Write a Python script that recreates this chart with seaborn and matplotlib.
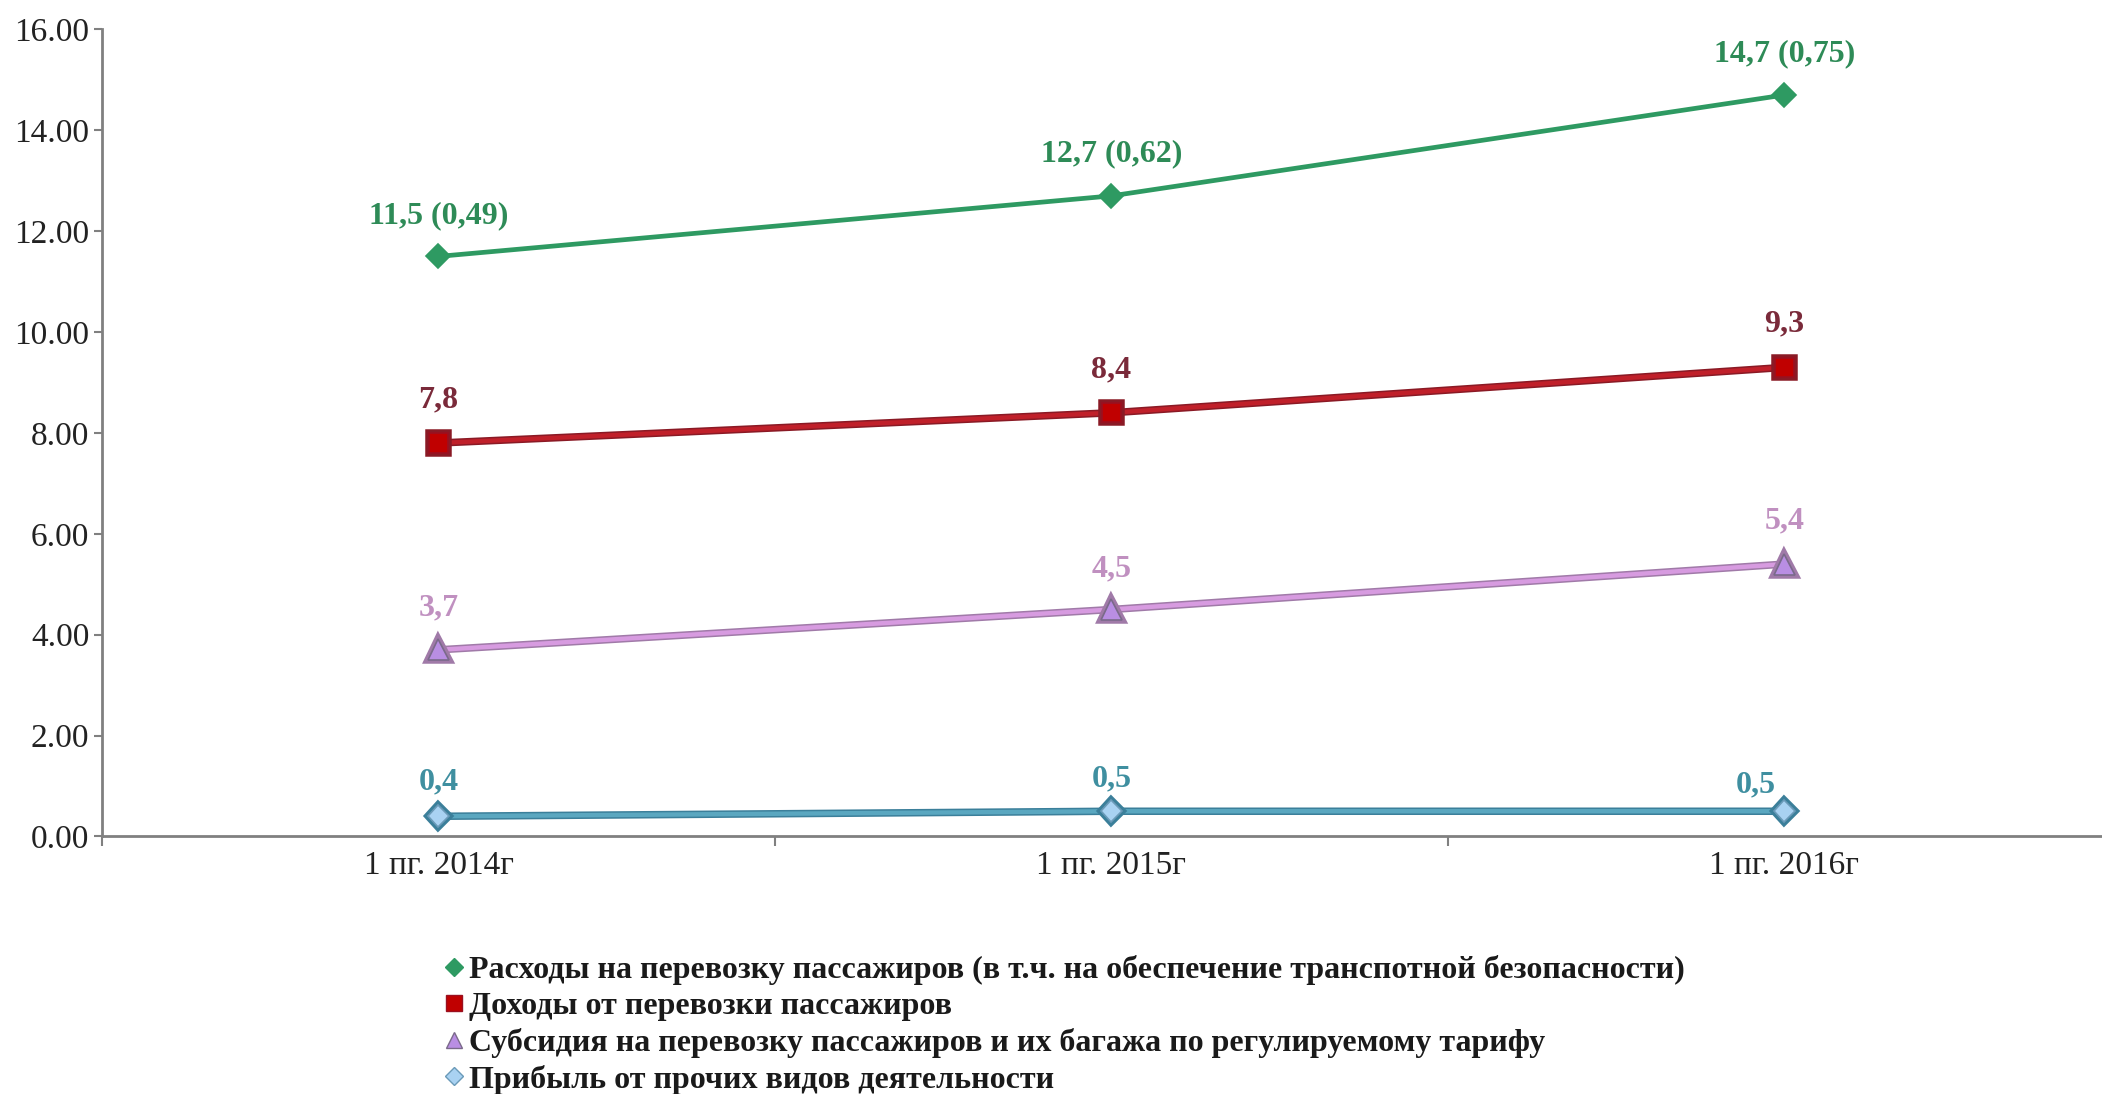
import matplotlib
matplotlib.use("Agg")
import matplotlib.pyplot as plt
import matplotlib.patheffects as pe
from matplotlib.lines import Line2D
import seaborn as sns
import pandas as pd

categories = ["1 пг. 2014г", "1 пг. 2015г", "1 пг. 2016г"]
series_names = [
    "Расходы на перевозку пассажиров (в т.ч. на обеспечение транспотной безопасности)",
    "Доходы от перевозки пассажиров",
    "Субсидия на перевозку пассажиров и их багажа по регулируемому тарифу",
    "Прибыль от прочих видов деятельности",
]
expenses = [11.5, 12.7, 14.7]
income = [7.8, 8.4, 9.3]
subsidy = [3.7, 4.5, 5.4]
profit = [0.4, 0.5, 0.5]
expenses_labels = ["11,5 (0,49)", "12,7 (0,62)", "14,7 (0,75)"]
income_labels = ["7,8", "8,4", "9,3"]
subsidy_labels = ["3,7", "4,5", "5,4"]
profit_labels = ["0,4", "0,5", "0,5"]
yticks = [0, 2, 4, 6, 8, 10, 12, 14, 16]

sns.set_theme(style="white")
plt.rcParams["font.family"] = ["Liberation Serif", "DejaVu Serif"]

fig = plt.figure(figsize=(21.02, 10.94), dpi=100)
ax = fig.add_axes([0.0485, 0.2354, 0.9605, 0.7377])

styles = [
    dict(values=expenses, labels=expenses_labels, color="#2e9a62", marker="D", mfc="#2e9a62",
         mec="#2e9a62", ms=12, lw=3.4, lcol="#2e8b57",
         offs=[(0, 29), (0, 30), (0, 30)], outline=None),
    dict(values=income, labels=income_labels, color="#c0202a", marker="s", mfc="#c00000",
         mec="#9a1020", ms=14, lw=3.2, lcol="#7a2a3a",
         offs=[(0, 31), (0, 31), (0, 31)], outline="#8a1a25"),
    dict(values=subsidy, labels=subsidy_labels, color="#d79be0", marker="^", mfc="#b98ee3",
         mec="#7a6a8a", ms=15, lw=3.2, lcol="#c090c0",
         offs=[(0, 30), (0, 29), (0, 31)], outline="#a07aa8"),
    dict(values=profit, labels=profit_labels, color="#5aa7c0", marker="D", mfc="#a9d2f2",
         mec="#6a9ab8", ms=11, lw=3.2, lcol="#3f8fa0",
         offs=[(0, 25), (0, 23), (-21, 19)], outline="#3b7f9a"),
]

for name, st in zip(series_names, styles):
    df = pd.DataFrame({"cat": categories, "val": st["values"]})
    sns.lineplot(data=df, x="cat", y="val", ax=ax, color=st["color"], linewidth=st["lw"],
                 marker=st["marker"], markersize=st["ms"], markerfacecolor=st["mfc"],
                 markeredgecolor=st["mec"], markeredgewidth=1.2, sort=False, zorder=3)
    line = ax.lines[-1]
    if st["outline"]:
        line.set_path_effects([pe.Stroke(linewidth=st["lw"] + 2.2, foreground=st["outline"]), pe.Normal()])
    for i, (v, lab, off) in enumerate(zip(st["values"], st["labels"], st["offs"])):
        ax.annotate(lab, (i, v), xytext=off, textcoords="offset points",
                    ha="center", va="center", fontsize=23, fontweight="bold",
                    color=st["lcol"], zorder=5)

ax.set_xlim(-0.5, 2.5)
ax.set_ylim(0, 16)
ax.set_yticks(yticks)
ax.set_yticklabels([f"{t:.2f}" for t in yticks])
ax.set_xticks(range(len(categories)))
ax.set_xticklabels(categories)
ax.set_xticks([-0.5, 0.5, 1.5, 2.5], minor=True)
ax.set_xlabel("")
ax.set_ylabel("")
ax.grid(False)

for side in ["top", "right"]:
    ax.spines[side].set_visible(False)
for side in ["left", "bottom"]:
    ax.spines[side].set_color("#808080")
    ax.spines[side].set_linewidth(2)

ax.tick_params(axis="y", which="major", left=True, length=6, width=1.5, color="#808080",
               labelsize=24, pad=3, labelcolor="#222222")
ax.tick_params(axis="x", which="major", bottom=False, length=0, labelsize=24, pad=10,
               labelcolor="#222222")
ax.tick_params(axis="x", which="minor", bottom=True, length=7, width=1.5, color="#808080")

handles = [
    Line2D([], [], linestyle="None", marker="D", markersize=9, markerfacecolor="#2e9a62", markeredgecolor="#2e9a62"),
    Line2D([], [], linestyle="None", marker="s", markersize=11, markerfacecolor="#c00000", markeredgecolor="#9a1020"),
    Line2D([], [], linestyle="None", marker="^", markersize=12, markerfacecolor="#b98ee3", markeredgecolor="#7a6a8a"),
    Line2D([], [], linestyle="None", marker="D", markersize=9, markerfacecolor="#a9d2f2", markeredgecolor="#6a9ab8"),
]
leg = fig.legend(handles, series_names, loc="upper left", bbox_to_anchor=(0.2117, 0.127),
                 frameon=False, handlelength=0.55, handletextpad=0.2, labelspacing=0.21,
                 borderpad=0, borderaxespad=0, prop={"size": 23, "weight": "bold"})
for t in leg.get_texts():
    t.set_color("#1a1a1a")

fig.savefig("out.png", dpi=100)
